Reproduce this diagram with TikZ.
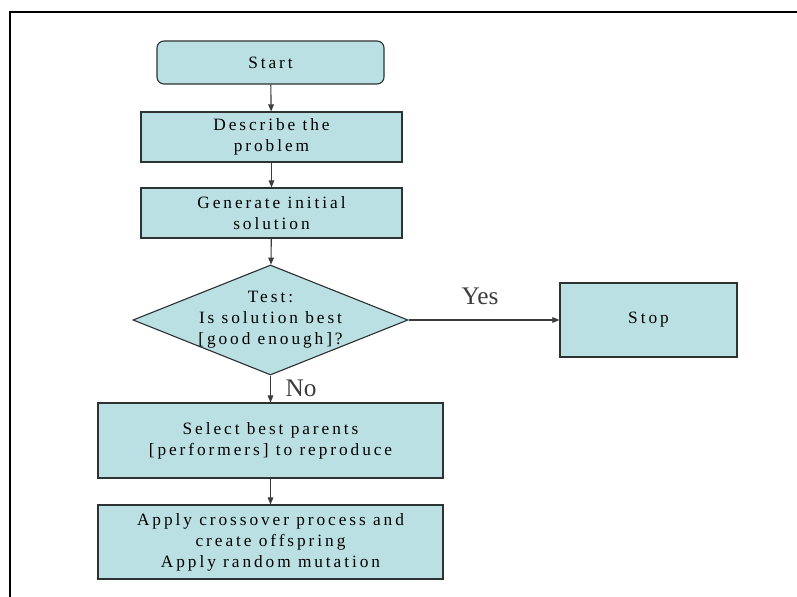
\documentclass[tikz,border=0pt]{standalone}
\usepackage{fontspec}
\setmainfont{Liberation Serif}
\newfontfamily\boxfont{Liberation Serif}[LetterSpace=17]
\usetikzlibrary{shapes.geometric,arrows.meta}
\definecolor{boxfill}{RGB}{187,224,227}
\definecolor{boxline}{RGB}{45,50,50}
\definecolor{flowgray}{RGB}{60,60,60}

\begin{document}
\begin{tikzpicture}[x=0.025cm,y=-0.025cm,
    box/.style={draw=boxline,line width=0.8pt,fill=boxfill,align=center,
      font=\boxfont\fontsize{12.3}{15}\selectfont},
    flow/.style={draw=flowgray,line width=0.8pt,-{Triangle[length=5pt,width=4pt]}},
    answer/.style={text=flowgray,font=\rmfamily\fontsize{18}{20}\selectfont}]
    \useasboundingbox (0,0) rectangle (797,597);
    \draw[line width=1.3pt] (10,597) -- (10,12) -- (797,12);

    \node[box,rounded corners=5pt,minimum width=5.675cm,minimum height=1.075cm] (start) at (270.5,62.5) {Start};
    \node[box,minimum width=6.525cm,minimum height=1.25cm] (describe) at (271.5,137) {Describe the\\problem};
    \node[box,minimum width=6.525cm,minimum height=1.25cm] (generate) at (271.5,213) {Generate initial\\solution};
    \node[box,diamond,shape aspect=2.5,inner sep=-5pt,minimum width=6.875cm,minimum height=2.75cm] (test) at (270.5,320) {Test:\\Is solution best\\{[good enough]?}};
    \node[box,minimum width=4.425cm,minimum height=1.85cm] (stop) at (648.5,320) {Stop};
    \node[box,minimum width=8.625cm,minimum height=1.875cm] (select) at (270.5,440.5) {Select best parents\\{[performers]} to reproduce};
    \node[box,minimum width=8.625cm,minimum height=1.85cm] (apply) at (270.5,542) {Apply crossover process and\\create offspring\\Apply random mutation};

    \node[answer] (yes) at (480,296) {Yes};
    \node[answer] (no) at (301,388) {No};

    \draw[flow] (start) -- (describe);
    \draw[flow] (describe) -- (generate);
    \draw[flow] (generate) -- (test);
    \draw[flow] (test) -- (stop);
    \draw[flow] (test) -- (select);
    \draw[flow] (select) -- (apply);
\end{tikzpicture}
\end{document}
